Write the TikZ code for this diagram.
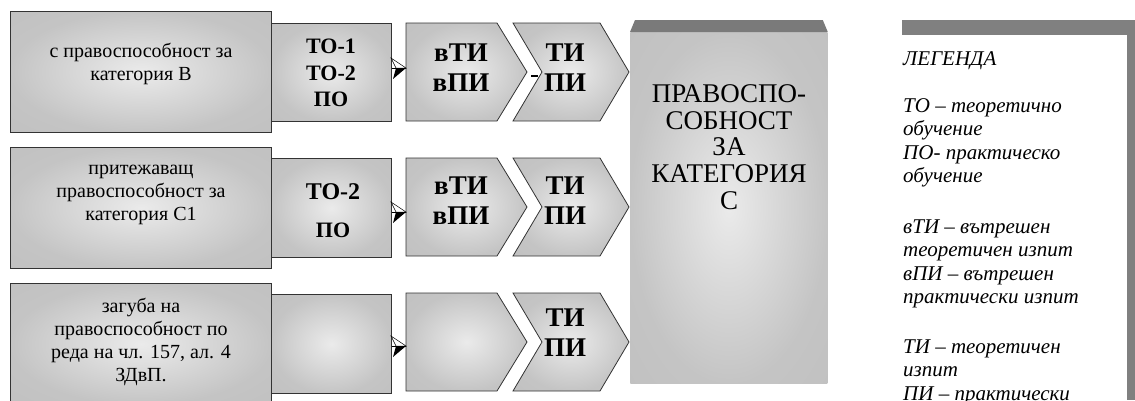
\documentclass[tikz,border=0pt]{standalone}
\usepackage{fontspec}
\setmainfont{Liberation Serif}
\usetikzlibrary{calc,positioning}
\pgfdeclareradialshading{boxshade}{\pgfpoint{0bp}{0bp}}{%
  color(0bp)=(black!8); color(25bp)=(black!23); color(50bp)=(black!26)}
\tikzset{
  condbox/.style={
    rectangle,
    draw=black!80, line width=0.8pt,
    shading=boxshade,
    anchor=north west,
    inner sep=0pt},
  chevshape/.style={draw=black!80, line width=0.8pt, shading=boxshade},
  condtext/.style={
    align=center, inner sep=0pt,
    font=\fontsize{20pt}{23.3pt}\selectfont},
  traintext/.style={
    align=center, inner sep=0pt,
    font=\bfseries\fontsize{22pt}{26.5pt}\selectfont},
  examtext/.style={
    align=center, inner sep=0pt,
    font=\bfseries\fontsize{27pt}{30pt}\selectfont},
  cattext/.style={
    align=center, inner sep=0pt,
    font=\fontsize{27pt}{26.8pt}\selectfont},
  legendtext/.style={
    align=left, inner sep=0pt, anchor=north west,
    font=\itshape\fontsize{21pt}{23.5pt}\selectfont},
  topface/.style={fill=black!52},
  arrowtip/.pic={
    \filldraw[fill=white, draw=black, line width=0.5pt]
      (-15,-10) -- (0,0) -- (-10,0) -- cycle;
    \fill[black] (-10,0) -- (0,0) -- (-13,11) -- cycle;
  },
}

\begin{document}
\begin{tikzpicture}[x=1pt,y=-1pt]
  \useasboundingbox (0,0) rectangle (1135,400);

  % starting conditions
  \node[condbox, minimum width=261pt, minimum height=121pt] (cond1) at (10,11) {};
  \node[condbox, minimum width=261pt, minimum height=121pt] (cond2) at (10,147) {};
  \node[condbox, minimum width=261pt, minimum height=121pt] (cond3) at (10,283) {};
  \node[condtext] (cond1txt) at (141,64) {с правоспособност за\\категория В};
  \node[condtext] (cond2txt) at (141,195) {притежаващ\\правоспособност за\\категория С1};
  \node[condtext] (cond3txt) at (141,342) {загуба на\\правоспособност по\\реда на чл. 157, ал. 4\\ЗДвП.};

  % training
  \node[condbox, minimum width=120pt, minimum height=98pt] (tr1) at (271,23) {};
  \node[condbox, minimum width=120pt, minimum height=99pt] (tr2) at (271,158) {};
  \node[condbox, minimum width=120pt, minimum height=99pt] (tr3) at (271,294) {};
  \node[traintext] (tr1txt) at (331,73) {ТО-1\\ТО-2\\ПО};
  \node[traintext, font=\bfseries\fontsize{24pt}{38pt}\selectfont] (tr2txt) at (333,211)
    {ТО-2\\{\fontsize{22pt}{38pt}\selectfont ПО}};

  % internal exams
  \path[chevshape] (406,23) -- (497,23) -- (527,72) -- (497,121) -- (406,121) -- cycle;
  \path[chevshape] (406,158) -- (497,158) -- (527,207) -- (497,256) -- (406,256) -- cycle;
  \path[chevshape] (406,293) -- (497,293) -- (527,342) -- (497,391) -- (406,391) -- cycle;
  \node[examtext] (vti1) at (461,68) {вТИ\\вПИ};
  \node[examtext] (vti2) at (461,201) {вТИ\\вПИ};

  % exams
  \path[chevshape] (513,23) -- (600,23) -- (629,72) -- (600,121) -- (513,121) -- (542,72) -- cycle;
  \path[chevshape] (513,158) -- (600,158) -- (629,207) -- (600,256) -- (513,256) -- (542,207) -- cycle;
  \path[chevshape] (513,293) -- (600,293) -- (629,342) -- (600,391) -- (513,391) -- (542,342) -- cycle;
  \node[examtext] (ti1) at (565,68) {ТИ\\ПИ};
  \node[examtext] (ti2) at (565,201) {ТИ\\ПИ};
  \node[examtext] (ti3) at (565,333) {ТИ\\ПИ};
  \draw[line width=1.5pt] (531,76) -- (538,76);

  % arrows
  \coordinate (ch1w) at (406,68);
  \coordinate (ch2w) at (406,212);
  \coordinate (ch3w) at (406,346);
  \draw[line width=0.5pt] (tr1.east |- ch1w) -- (ch1w) pic {arrowtip};
  \draw[line width=0.5pt] (tr2.east |- ch2w) -- (ch2w) pic {arrowtip};
  \draw[line width=0.5pt] (tr3.east |- ch3w) -- (ch3w) pic {arrowtip};

  % result
  \node[condbox, draw=none, minimum width=197pt, minimum height=351pt] (cat) at (630,32) {};
  \path[topface] ($(cat.north west)+(5,-12)$) -- ($(cat.north east)+(-5,-12)$)
    -- (cat.north east) -- (cat.north west) -- cycle;
  \node[cattext] (cattxt) at (729,147) {ПРАВОСПО-\\СОБНОСТ\\ЗА\\КАТЕГОРИЯ\\С};

  % legend
  \coordinate (legtl) at (902,20);
  \fill[black!50] (legtl) rectangle (1135,35);
  \fill[black!50] (1127,35) rectangle (1135,400);
  \node[legendtext] (legend) at (903,51) {ЛЕГЕНДА\\[23.5pt]
    ТО – теоретично\\обучение\\ПО- практическо\\обучение\\[27pt]
    вТИ – вътрешен\\теоретичен изпит\\вПИ – вътрешен\\практически изпит\\[26pt]
    ТИ – теоретичен\\изпит\\ПИ – практически};
\end{tikzpicture}
\end{document}
